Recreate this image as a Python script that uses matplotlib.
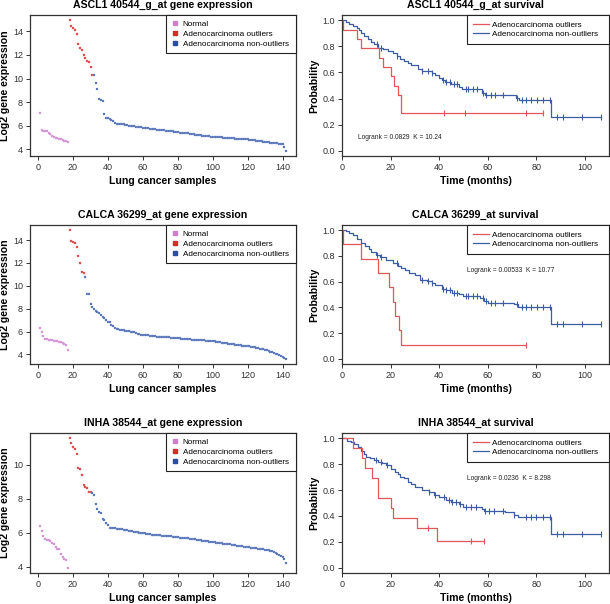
import numpy as np
import matplotlib
matplotlib.use("Agg")
import matplotlib.pyplot as plt
from matplotlib.lines import Line2D

plt.rcParams['font.family'] = ['Liberation Sans', 'DejaVu Sans']

# ---------------- gene expression data (sample order 1..142) ----------------
genes = ["ASCL1 40544_g_at", "CALCA 36299_at", "INHA 38544_at"]

ascl1_normal = [7.05, 5.62, 5.58, 5.55, 5.52, 5.35, 5.3, 5.12, 5.0, 4.95, 4.92, 4.9, 4.85, 4.78,
                4.72, 4.65, 4.58]
ascl1_outliers = [14.95, 14.5, 14.3, 14.15, 13.8, 12.9, 12.6, 12.45, 12.0, 11.75, 11.5, 11.4, 11.0, 10.3]
ascl1_nonoutliers = [10.3, 9.6, 9.1, 8.3, 8.2, 8.1, 7.0, 6.65, 6.62, 6.58, 6.5, 6.4, 6.2, 6.15, 6.14,
                     6.13, 6.12, 6.1, 6.08, 6.05, 6.0, 5.98, 5.96, 5.94, 5.92, 5.9, 5.88, 5.86, 5.83,
                     5.81, 5.79, 5.77, 5.75, 5.72, 5.7, 5.68, 5.66, 5.65, 5.63, 5.62, 5.6, 5.58, 5.56,
                     5.54, 5.52, 5.5, 5.48, 5.45, 5.43, 5.41, 5.4, 5.38, 5.36, 5.35, 5.33, 5.3, 5.28,
                     5.25, 5.23, 5.21, 5.19, 5.16, 5.14, 5.12, 5.1, 5.09, 5.08, 5.07, 5.06, 5.05, 5.03,
                     5.02, 5.0, 4.99, 4.98, 4.97, 4.96, 4.95, 4.94, 4.92, 4.91, 4.9, 4.89, 4.88, 4.87,
                     4.86, 4.85, 4.84, 4.83, 4.81, 4.79, 4.77, 4.74, 4.72, 4.7, 4.68, 4.66, 4.64, 4.62,
                     4.6, 4.58, 4.56, 4.54, 4.52, 4.5, 4.48, 4.46, 4.45, 4.43, 4.15, 3.86]

calca_normal = [6.34, 5.96, 5.59, 5.35, 5.32, 5.3, 5.28, 5.25, 5.22, 5.2, 5.15, 5.1, 5.05, 5.0,
                4.95, 4.85, 4.4]
calca_outliers = [14.87, 13.95, 13.82, 13.78, 13.37, 12.6, 12.03, 11.25, 11.15]
calca_nonoutliers = [10.75, 9.32, 9.25, 8.45, 8.15, 7.95, 7.8, 7.75, 7.6, 7.45, 7.3, 7.2, 7.0, 6.85,
                     6.8, 6.55, 6.48, 6.35, 6.25, 6.2, 6.15, 6.12, 6.1, 6.07, 6.05, 6.02, 6.0, 5.97,
                     5.93, 5.88, 5.83, 5.78, 5.74, 5.72, 5.7, 5.68, 5.66, 5.64, 5.62, 5.6, 5.59, 5.57,
                     5.56, 5.55, 5.54, 5.52, 5.51, 5.5, 5.49, 5.48, 5.46, 5.45, 5.43, 5.42, 5.4, 5.38,
                     5.37, 5.35, 5.34, 5.33, 5.31, 5.3, 5.29, 5.28, 5.27, 5.26, 5.25, 5.24, 5.23, 5.22,
                     5.21, 5.2, 5.19, 5.17, 5.15, 5.12, 5.09, 5.06, 5.03, 5.0, 4.98, 4.96, 4.94, 4.92,
                     4.9, 4.88, 4.86, 4.84, 4.82, 4.8, 4.78, 4.76, 4.74, 4.72, 4.7, 4.67, 4.64, 4.62,
                     4.58, 4.55, 4.52, 4.48, 4.44, 4.4, 4.35, 4.3, 4.25, 4.2, 4.15, 4.08, 4.0, 3.93,
                     3.86, 3.78, 3.7, 3.62]

inha_normal = [6.38, 6.09, 5.82, 5.65, 5.6, 5.58, 5.5, 5.4, 5.33, 5.2, 5.05, 5.03, 4.75, 4.6,
               4.45, 4.4, 3.95]
inha_outliers = [11.56, 11.27, 11.07, 10.9, 10.66, 9.83, 9.73, 9.38, 8.79, 8.67, 8.65, 8.42, 8.38]
inha_nonoutliers = [8.32, 8.2, 7.68, 7.4, 7.2, 7.15, 6.81, 6.75, 6.6, 6.46, 6.3, 6.28, 6.27, 6.26,
                    6.25, 6.24, 6.23, 6.22, 6.2, 6.18, 6.16, 6.14, 6.12, 6.1, 6.08, 6.06, 6.04, 6.02,
                    6.0, 5.99, 5.97, 5.95, 5.93, 5.92, 5.9, 5.89, 5.88, 5.87, 5.86, 5.85, 5.84, 5.83,
                    5.82, 5.81, 5.8, 5.79, 5.78, 5.77, 5.75, 5.74, 5.73, 5.72, 5.71, 5.7, 5.69, 5.68,
                    5.66, 5.65, 5.63, 5.62, 5.6, 5.58, 5.57, 5.55, 5.54, 5.52, 5.51, 5.49, 5.47, 5.46,
                    5.45, 5.43, 5.42, 5.4, 5.39, 5.37, 5.36, 5.35, 5.34, 5.33, 5.31, 5.29, 5.28, 5.26,
                    5.25, 5.23, 5.22, 5.2, 5.18, 5.17, 5.15, 5.14, 5.12, 5.11, 5.1, 5.08, 5.06, 5.05,
                    5.04, 5.02, 5.0, 4.98, 4.96, 4.93, 4.88, 4.84, 4.79, 4.73, 4.66, 4.59, 4.45, 4.25]

# ---------------- survival data (Kaplan-Meier steps) ----------------
ascl1_out_t = [0, 0.3, 6, 8, 15.3, 16.7, 20, 21.5, 23, 24.5, 83]
ascl1_out_s = [1.0, 0.929, 0.857, 0.786, 0.714, 0.643, 0.571, 0.5, 0.429, 0.286, 0.286]
ascl1_out_cens = [42, 50.5, 76, 83]
ascl1_non_t = [0, 1.5, 3, 4.5, 6, 7, 8, 9, 10.5, 12, 13, 15, 17, 19, 21, 22.5, 24, 25.5, 27, 28.5,
               30, 31.5, 33, 35, 37, 38.5, 40, 41, 42.5, 45, 48, 49.5, 57.5, 59, 71.5, 73, 86.3, 106.5]
ascl1_non_s = [1.0, 0.99, 0.975, 0.956, 0.94, 0.925, 0.9, 0.88, 0.86, 0.835, 0.82, 0.79, 0.777, 0.765,
               0.75, 0.73, 0.7, 0.69, 0.67, 0.66, 0.654, 0.623, 0.615, 0.61, 0.597, 0.58, 0.56, 0.546,
               0.526, 0.51, 0.49, 0.477, 0.44, 0.426, 0.405, 0.392, 0.259, 0.259]
ascl1_non_cens = [14.5, 16, 22.5, 33, 35.5, 37, 41.5, 43, 44.5, 46, 47.5, 51, 52, 54, 55.5, 58, 59.5,
                  61.5, 63, 66.5, 72, 74, 76, 78, 80.5, 83, 85.5, 88.5, 91, 99, 106.5]

calca_out_t = [0, 0.3, 8, 15, 19.5, 21, 22, 23.5, 24.5, 76]
calca_out_s = [1.0, 0.889, 0.778, 0.667, 0.556, 0.444, 0.333, 0.222, 0.111, 0.111]
calca_out_cens = [76]
calca_non_t = [0, 1.5, 3, 4.5, 6, 8, 9.5, 11, 12, 14, 15.5, 18, 21, 23, 24.5, 26, 27.5, 30, 32, 35,
               37, 38.5, 41, 43, 45.5, 48, 50, 57, 58.5, 60, 71, 72.5, 86.3, 106.5]
calca_non_s = [1.0, 0.99, 0.975, 0.96, 0.93, 0.9, 0.88, 0.85, 0.83, 0.81, 0.795, 0.77, 0.744, 0.725,
               0.705, 0.69, 0.67, 0.654, 0.615, 0.603, 0.59, 0.57, 0.544, 0.533, 0.515, 0.5, 0.487,
               0.47, 0.45, 0.436, 0.423, 0.403, 0.267, 0.267]
calca_non_cens = [14.5, 16, 22.5, 33, 35.5, 37, 41.5, 43, 44.5, 46, 47.5, 51, 52, 54, 55.5, 58, 59.5,
                  61.5, 63, 66.5, 72, 74, 76, 78, 80.5, 83, 85.5, 88.5, 91, 99, 106.5]

inha_out_t = [0, 4.7, 8.3, 9.5, 12.5, 14.7, 20, 21, 31, 39, 58.5]
inha_out_s = [1.0, 0.923, 0.846, 0.769, 0.692, 0.538, 0.462, 0.385, 0.308, 0.205, 0.205]
inha_out_cens = [35.5, 53, 58.5]
inha_non_t = [0, 2, 3.5, 5, 6.5, 8, 9, 10, 11.5, 13, 15, 16.5, 18, 20, 22, 23, 24, 25.5, 27, 28.5,
              30, 33, 36, 38, 40, 43, 45, 48, 50, 57.5, 58.5, 67, 71, 72.5, 86.3, 106.5]
inha_non_s = [1.0, 0.982, 0.97, 0.956, 0.93, 0.905, 0.88, 0.853, 0.845, 0.833, 0.82, 0.81, 0.794,
              0.763, 0.738, 0.725, 0.704, 0.69, 0.66, 0.645, 0.627, 0.6, 0.584, 0.565, 0.545, 0.527,
              0.51, 0.494, 0.473, 0.455, 0.442, 0.434, 0.41, 0.39, 0.262, 0.262]
inha_non_cens = [14, 16, 18.5, 36, 38.5, 42, 44, 45.5, 47, 48.5, 51, 53, 55, 59, 60.5, 62.5, 66.5,
                 71, 76, 78, 80, 83, 85.5, 88.5, 91, 99, 106.5]

logrank_texts = ["Logrank = 0.0829  K = 10.24", "Logrank = 0.00533  K = 10.77",
                 "Logrank = 0.0236  K = 8.298"]
logrank_pos = [(6.5, 0.105), (51.5, 0.69), (51.5, 0.69)]

# colours
c_normal = '#CC80CC'
c_out = '#D42B2B'
c_non = '#2C4C9C'
c_km_out = '#E0565A'
c_km_non = '#3C5CA4'
c_axis = '#333333'


def style_axes(ax):
    for sp in ax.spines.values():
        sp.set_color(c_axis)
        sp.set_linewidth(0.9)
    ax.tick_params(direction='out', length=3, width=0.7, colors=c_axis, labelsize=6.5, pad=2)


def expr_panel(ax, title, normal, outliers, nonout):
    x_n = np.arange(1, len(normal) + 1)
    x_o = np.arange(len(normal) + 1, len(normal) + len(outliers) + 1)
    x_a = np.arange(len(normal) + len(outliers) + 1, len(normal) + len(outliers) + len(nonout) + 1)
    ax.scatter(x_n, normal, marker='s', s=4, color=c_normal, edgecolors='#E6B8E6', linewidths=0.3)
    ax.scatter(x_o, outliers, marker='s', s=4, color=c_out, edgecolors='#F09090', linewidths=0.3)
    ax.scatter(x_a, nonout, marker='s', s=4, color=c_non, edgecolors='#A8BCE8', linewidths=0.3)
    allv = np.concatenate([normal, outliers, nonout])
    n = len(allv)
    ax.set_xlim(1 - 0.04 * (n - 1), n + 0.04 * (n - 1))
    pad = 0.04 * (allv.max() - allv.min())
    ax.set_ylim(allv.min() - pad, allv.max() + pad)
    ax.set_xticks([0, 20, 40, 60, 80, 100, 120, 140])
    ax.set_yticks(np.arange(4, allv.max() + 0.01, 2))
    ax.set_title(title + " gene expression", fontsize=7.6, fontweight='bold', pad=5)
    ax.set_xlabel("Lung cancer samples", fontsize=7.6, fontweight='bold', labelpad=3)
    ax.set_ylabel("Log2 gene expression", fontsize=7.6, fontweight='bold', labelpad=2)
    handles = [Line2D([], [], marker='s', ms=2.2, ls='none', color=c_normal),
               Line2D([], [], marker='s', ms=2.2, ls='none', color=c_out),
               Line2D([], [], marker='s', ms=2.2, ls='none', color=c_non)]
    leg = ax.legend(handles, ["Normal", "Adenocarcinoma outliers", "Adenocarcinoma non-outliers "],
                    loc='upper right', borderaxespad=0, fontsize=5.9, fancybox=False,
                    handlelength=0.9, handletextpad=0.5, labelspacing=0.3, borderpad=0.6,
                    framealpha=1)
    leg.get_frame().set_edgecolor('#222222')
    leg.get_frame().set_linewidth(0.8)
    style_axes(ax)


def km_panel(ax, title, out_t, out_s, out_c, non_t, non_s, non_c, txt, pos):
    ax.plot(non_t, non_s, drawstyle='steps-post', color=c_km_non, lw=0.9)
    ax.plot(out_t, out_s, drawstyle='steps-post', color=c_km_out, lw=0.9)
    # censoring marks sit on the step curve
    yc = np.array(non_s)[np.searchsorted(non_t, non_c, side='right') - 1]
    ax.plot(non_c, yc, ls='none', marker='|', ms=4, mew=0.8, color=c_km_non)
    yc = np.array(out_s)[np.searchsorted(out_t, out_c, side='right') - 1]
    ax.plot(out_c, yc, ls='none', marker='|', ms=4, mew=0.8, color=c_km_out)
    ax.set_xlim(0, 110)
    ax.set_ylim(-0.04, 1.04)
    ax.set_xticks([0, 20, 40, 60, 80, 100])
    ax.set_yticks([0.0, 0.2, 0.4, 0.6, 0.8, 1.0])
    ax.set_yticklabels(["0.0", "0.2", "0.4", "0.6", "0.8", "1.0"])
    ax.set_title(title + " survival", fontsize=7.6, fontweight='bold', pad=5)
    ax.set_xlabel("Time (months)", fontsize=7.6, fontweight='bold', labelpad=3)
    ax.set_ylabel("Probability", fontsize=7.6, fontweight='bold', labelpad=2)
    ax.text(pos[0], pos[1], txt, fontsize=4.8, color='#222222', va='center')
    handles = [Line2D([], [], color=c_km_out, lw=0.9), Line2D([], [], color=c_km_non, lw=0.9)]
    leg = ax.legend(handles, ["Adenocarcinoma outliers", "Adenocarcinoma non-outliers  "],
                    loc='upper right', borderaxespad=0, fontsize=5.9, fancybox=False,
                    handlelength=2.0, handletextpad=0.4, labelspacing=0.15, borderpad=0.75,
                    framealpha=1)
    leg.get_frame().set_edgecolor('#222222')
    leg.get_frame().set_linewidth(0.8)
    style_axes(ax)


fig = plt.figure(figsize=(6.1, 6.04), dpi=100)
rows = [(0.7417, 0.2334), (0.3974, 0.2301), (0.0513, 0.2318)]
left_rect = (0.0492, 0.436)
right_rect = (0.5607, 0.4377)

expr = [(ascl1_normal, ascl1_outliers, ascl1_nonoutliers),
        (calca_normal, calca_outliers, calca_nonoutliers),
        (inha_normal, inha_outliers, inha_nonoutliers)]
surv = [(ascl1_out_t, ascl1_out_s, ascl1_out_cens, ascl1_non_t, ascl1_non_s, ascl1_non_cens),
        (calca_out_t, calca_out_s, calca_out_cens, calca_non_t, calca_non_s, calca_non_cens),
        (inha_out_t, inha_out_s, inha_out_cens, inha_non_t, inha_non_s, inha_non_cens)]

for i in range(3):
    b, h = rows[i]
    ax1 = fig.add_axes([left_rect[0], b, left_rect[1], h])
    expr_panel(ax1, genes[i], *expr[i])
    ax2 = fig.add_axes([right_rect[0], b, right_rect[1], h])
    km_panel(ax2, genes[i], *surv[i], logrank_texts[i], logrank_pos[i])

fig.savefig("out.png", dpi=100)
